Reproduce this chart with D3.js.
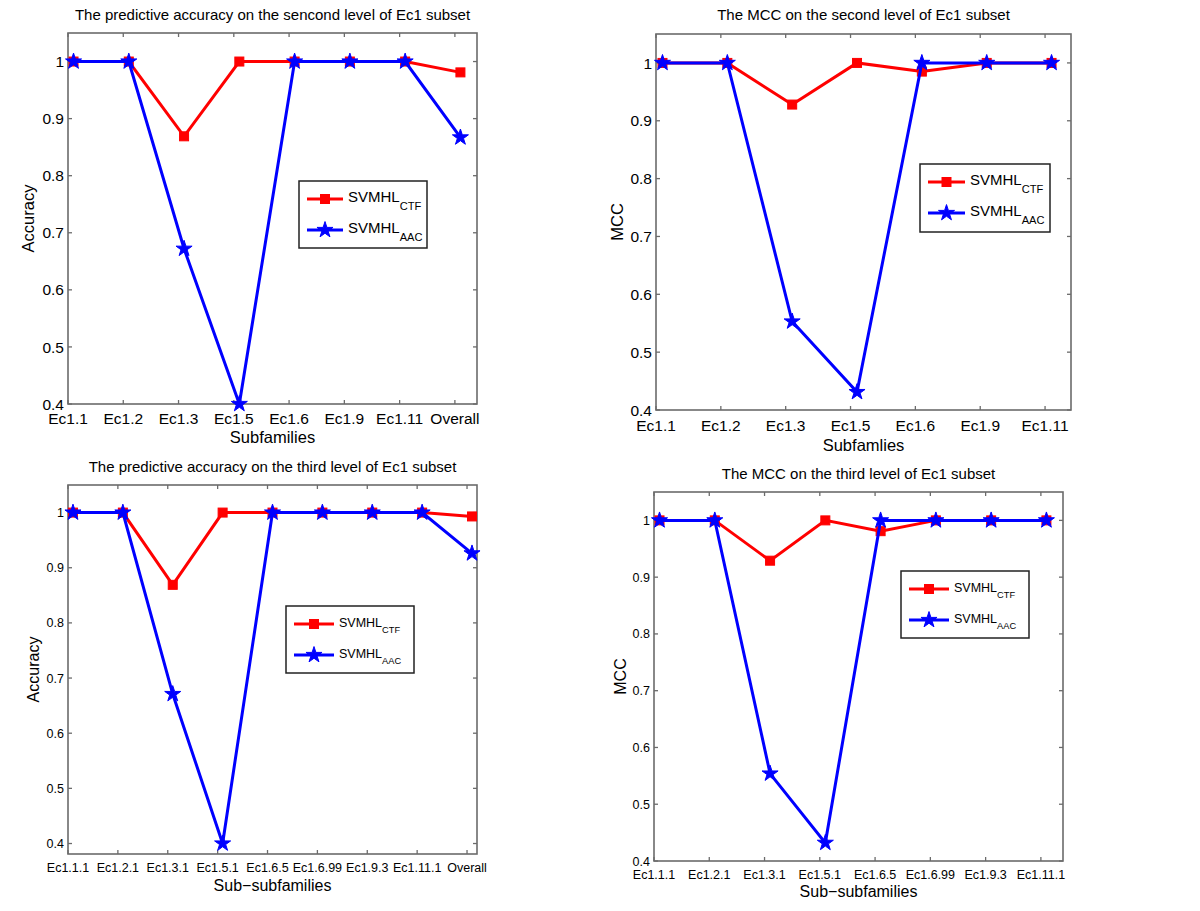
<!DOCTYPE html>
<meta charset="utf-8">
<style>
  body { margin: 0; background: #fff; }
  text { font-family: "Liberation Sans", Arial, Helvetica, sans-serif; fill: #000; }
  .frame { fill: none; stroke: #6b6b6b; stroke-width: 1.6px; }
  .tick { stroke: #6b6b6b; stroke-width: 1.3px; }
  .ctf { fill: none; stroke: #ff0000; stroke-width: 3px; }
  .aac { fill: none; stroke: #0000ff; stroke-width: 3px; }
  .legend-box { fill: #fff; stroke: #222; stroke-width: 1.5px; }
</style>
<body>
<script src="https://d3js.org/d3.v7.min.js"></script>
<script>
// categories
var subfamilies = ["Ec1.1", "Ec1.2", "Ec1.3", "Ec1.5", "Ec1.6", "Ec1.9", "Ec1.11", "Overall"];
var subfamiliesMcc = ["Ec1.1", "Ec1.2", "Ec1.3", "Ec1.5", "Ec1.6", "Ec1.9", "Ec1.11"];
var subsub = ["Ec1.1.1", "Ec1.2.1", "Ec1.3.1", "Ec1.5.1", "Ec1.6.5", "Ec1.6.99", "Ec1.9.3", "Ec1.11.1", "Overall"];
var subsubMcc = ["Ec1.1.1", "Ec1.2.1", "Ec1.3.1", "Ec1.5.1", "Ec1.6.5", "Ec1.6.99", "Ec1.9.3", "Ec1.11.1"];

// series values
var acc2CTF = [1, 1, 0.869, 1, 1, 1, 1, 0.981];
var acc2AAC = [1, 1, 0.672, 0.4, 1, 1, 1, 0.867];
var mcc2CTF = [1, 1, 0.928, 1, 0.985, 1, 1];
var mcc2AAC = [1, 1, 0.553, 0.431, 1, 1, 1];
var acc3CTF = [1, 1, 0.869, 1, 1, 1, 1, 1, 0.993];
var acc3AAC = [1, 1, 0.671, 0.4, 1, 1, 1, 1, 0.926];
var mcc3CTF = [1, 1, 0.929, 1, 0.981, 1, 1, 1];
var mcc3AAC = [1, 1, 0.554, 0.432, 1, 1, 1, 1];

var yTicks = [0.4, 0.5, 0.6, 0.7, 0.8, 0.9, 1];
var yTickLabels = ["0.4", "0.5", "0.6", "0.7", "0.8", "0.9", "1"];

// panel layout
var panels = [
  { title: "The predictive accuracy on the sencond level of Ec1 subset", xlab: "Subfamilies", ylab: "Accuracy",
    cats: subfamilies, ctf: acc2CTF, aac: acc2AAC, ymin: 0.4,
    box: [68, 33, 477, 404], xmax: 8.4, tickFs: 15.5, labFs: 16.5, legFs: 15,
    titleY: 20, tickY: 424, xlabY: 443, ylabX: 34, leg: [299, 181, 128, 67, 49] },
  { title: "The MCC on the second level of Ec1 subset", xlab: "Subfamlies", ylab: "MCC",
    cats: subfamiliesMcc, ctf: mcc2CTF, aac: mcc2AAC, ymin: 0.4,
    box: [656, 34, 1071, 410], xmax: 7.4, tickFs: 15.5, labFs: 16.5, legFs: 15,
    titleY: 20, tickY: 431, xlabY: 451, ylabX: 623, leg: [920, 164, 130, 68, 50] },
  { title: "The predictive accuracy on the third level of Ec1 subset", xlab: "Sub\u2212subfamilies", ylab: "Accuracy",
    cats: subsub, ctf: acc3CTF, aac: acc3AAC, ymin: 0.381,
    box: [68, 485, 477, 854], xmax: 9.2, tickFs: 12.5, labFs: 16, legFs: 12.5,
    titleY: 472, tickY: 872, xlabY: 891, ylabX: 39, leg: [286, 606, 128, 67, 53] },
  { title: "The MCC on the third level of Ec1 subset", xlab: "Sub\u2212subfamilies", ylab: "MCC",
    cats: subsubMcc, ctf: mcc3CTF, aac: mcc3AAC, ymin: 0.4,
    box: [654, 492, 1063, 861], xmax: 8.4, tickFs: 12.5, labFs: 16, legFs: 12.5,
    titleY: 479, tickY: 879, xlabY: 897, ylabX: 626, leg: [901, 571, 128, 67, 53] }
];

var svg = d3.select("body").append("svg")
  .attr("width", 1200)
  .attr("height", 911);

var star = d3.symbol().type(d3.symbolStar).size(80);

function drawCtfMarker(g, cx, cy) {
  g.append("rect")
    .attr("x", cx - 4.5).attr("y", cy - 4.5)
    .attr("width", 9).attr("height", 9)
    .attr("fill", "#ff0000").attr("stroke", "#ff0000").attr("stroke-width", 1);
}
function drawAacMarker(g, cx, cy) {
  g.append("path")
    .attr("d", star())
    .attr("transform", "translate(" + cx + "," + cy + ")")
    .attr("fill", "#0000ff").attr("stroke", "#0000ff").attr("stroke-width", 1);
}

panels.forEach(function(p) {
  var g = svg.append("g");
  var L = p.box[0], T = p.box[1], R = p.box[2], B = p.box[3];

  var x = d3.scaleLinear().domain([1, p.xmax]).range([L, R]);
  var y = d3.scaleLinear().domain([p.ymin, 1.05]).range([B, T]);
  var tickPos = p.cats.map(function(d, i) { return i + 1; });

  // frame
  g.append("rect").attr("class", "frame")
    .attr("x", L).attr("y", T).attr("width", R - L).attr("height", B - T);

  // inward ticks on all four sides
  tickPos.forEach(function(t) {
    g.append("line").attr("class", "tick").attr("x1", x(t)).attr("x2", x(t)).attr("y1", B).attr("y2", B - 4);
    g.append("line").attr("class", "tick").attr("x1", x(t)).attr("x2", x(t)).attr("y1", T).attr("y2", T + 4);
  });
  yTicks.forEach(function(t) {
    g.append("line").attr("class", "tick").attr("x1", L).attr("x2", L + 4).attr("y1", y(t)).attr("y2", y(t));
    g.append("line").attr("class", "tick").attr("x1", R).attr("x2", R - 4).attr("y1", y(t)).attr("y2", y(t));
  });

  // tick labels
  g.selectAll(".xl").data(p.cats).enter().append("text")
    .attr("x", function(d, i) { return x(i + 1); })
    .attr("y", p.tickY)
    .attr("text-anchor", "middle")
    .attr("font-size", p.tickFs)
    .text(function(d) { return d; });
  g.selectAll(".yl").data(yTicks).enter().append("text")
    .attr("x", L - 4)
    .attr("y", function(d) { return y(d); })
    .attr("dy", "0.36em")
    .attr("text-anchor", "end")
    .attr("font-size", p.tickFs)
    .text(function(d, i) { return yTickLabels[i]; });

  // titles and axis labels
  g.append("text").attr("x", (L + R) / 2).attr("y", p.titleY)
    .attr("text-anchor", "middle").attr("font-size", 15).text(p.title);
  g.append("text").attr("x", (L + R) / 2).attr("y", p.xlabY)
    .attr("text-anchor", "middle").attr("font-size", p.labFs).text(p.xlab);
  g.append("text")
    .attr("transform", "translate(" + p.ylabX + "," + ((T + B) / 2) + ") rotate(-90)")
    .attr("text-anchor", "middle").attr("font-size", p.labFs).text(p.ylab);

  // series (points sit slightly right of their ticks, as in the original)
  var off = 0.1;
  var line = d3.line()
    .x(function(d, i) { return x(i + 1 + off); })
    .y(function(d) { return y(d); });

  g.append("path").datum(p.ctf).attr("class", "ctf").attr("d", line);
  p.ctf.forEach(function(v, i) { drawCtfMarker(g, x(i + 1 + off), y(v)); });
  g.append("path").datum(p.aac).attr("class", "aac").attr("d", line);
  p.aac.forEach(function(v, i) { drawAacMarker(g, x(i + 1 + off), y(v)); });

  // legend
  var lx = p.leg[0], ly = p.leg[1], lw = p.leg[2], lh = p.leg[3], tx = p.leg[4];
  var lg = g.append("g");
  lg.append("rect").attr("class", "legend-box")
    .attr("x", lx).attr("y", ly).attr("width", lw).attr("height", lh);
  var entries = [
    { name: "SVMHL", sub: "CTF", cls: "ctf", mk: drawCtfMarker, dy: 18 },
    { name: "SVMHL", sub: "AAC", cls: "aac", mk: drawAacMarker, dy: 49 }
  ];
  entries.forEach(function(e) {
    var ey = ly + e.dy;
    lg.append("line").attr("class", e.cls)
      .attr("x1", lx + 8).attr("x2", lx + tx - 5).attr("y1", ey).attr("y2", ey);
    e.mk(lg, lx + (8 + tx - 5) / 2, ey);
    var t = lg.append("text").attr("x", lx + tx).attr("y", ey + 3).attr("font-size", p.legFs);
    t.append("tspan").text(e.name);
    t.append("tspan").attr("dy", p.legFs * 0.5).attr("font-size", p.legFs * 0.74).text(e.sub);
  });
});
</script>
</body>
